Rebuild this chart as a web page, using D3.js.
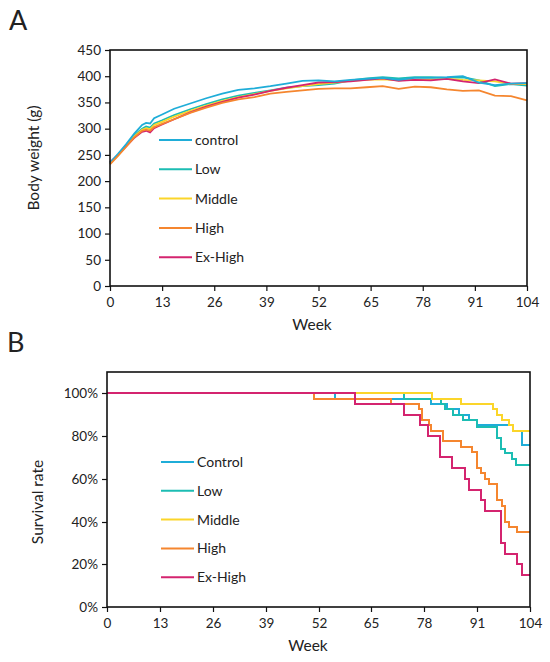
<!DOCTYPE html>
<meta charset="utf-8">
<head>
<style>
    body {margin: 0; background: #fff;}
    svg text {font-family: Lato, "Open Sans", sans-serif; fill: #222;}
</style>
</head>
<body>
<div class="chart"></div>
</body>
<script src="https://d3js.org/d3.v7.min.js"></script>
<script>
// groups
var groups = ["control", "Low", "Middle", "High", "Ex-High"];
var groupsB = ["Control", "Low", "Middle", "High", "Ex-High"];
var colors = ["#1fadd8", "#1cbdb3", "#fbd52a", "#f5862f", "#d4246f"];

// A: body weight (g) by week
var bwWeeks = [0, 2, 4, 6, 8, 9, 10, 11, 13, 16, 20, 24, 28, 32, 36, 40, 44, 48, 52, 56, 60, 64, 68, 72, 76, 80, 84, 88, 92, 96, 100, 104];
var bwControl = [235, 252, 270, 290, 307, 311, 310, 320, 327, 338, 348, 358, 367, 374, 377, 381, 386, 391, 392, 390, 393, 395, 397, 393, 397, 397, 398, 400, 388, 383, 386, 387];
var bwLow     = [235, 250, 268, 287, 300, 304, 302, 310, 316, 326, 337, 347, 356, 363, 368, 373, 378, 381, 383, 386, 392, 396, 398, 396, 398, 398, 397, 398, 392, 381, 385, 382];
var bwMiddle  = [233, 249, 267, 285, 298, 301, 299, 307, 313, 323, 334, 344, 353, 360, 366, 372, 377, 381, 385, 388, 391, 393, 394, 392, 394, 394, 395, 393, 392, 390, 385, 385];
var bwHigh    = [232, 248, 265, 283, 296, 298, 296, 303, 309, 318, 330, 340, 349, 356, 360, 367, 370, 373, 376, 377, 377, 379, 381, 376, 380, 379, 375, 372, 373, 363, 362, 354];
var bwExHigh  = [236, 250, 266, 282, 294, 296, 293, 301, 308, 318, 331, 342, 351, 359, 365, 372, 378, 383, 388, 389, 390, 393, 396, 391, 393, 392, 395, 390, 387, 394, 386, 387];

// B: survival rate (%) - week of each step and level after it
var svControlT = [0, 56, 79.6, 83.5, 86.5, 89, 91, 99.9, 102];
var svControlS = [100, 97.5, 95, 92.5, 90, 87.5, 85, 82.5, 76];
var svLowT = [0, 73, 82, 83, 85, 87.5, 91, 96, 96.8, 97.8, 99.6, 100.6];
var svLowS = [100, 97.5, 95, 92.5, 90, 87.5, 84.3, 79, 74, 72, 69.5, 66.5];
var svMiddleT = [0, 79.8, 87, 95, 96, 97, 98.9, 99.7];
var svMiddleS = [100, 97.5, 95, 92.5, 90, 87.5, 85, 82.5];
var svHighT = [0, 50.9, 69.9, 76.7, 77.4, 79.1, 79.7, 82.7, 87, 89.8, 90.9, 91.9, 92.9, 93.8, 96, 97, 97.8, 98.9, 100.7];
var svHighS = [100, 97.5, 95, 92.5, 87.5, 85, 82.5, 77.5, 75, 72.5, 65, 62.5, 60, 57.5, 50, 47.5, 40, 37.5, 35];
var svExHighT = [0, 61, 72.9, 76.9, 79, 81.9, 84.8, 88, 89, 92, 93, 96.9, 97.8, 100.9, 102];
var svExHighS = [100, 95, 90, 85, 80, 70, 65, 60, 55, 50, 45, 30, 25, 20, 15];

var weekTicks = [0, 13, 26, 39, 52, 65, 78, 91, 104];
var bwTicks = [0, 50, 100, 150, 200, 250, 300, 350, 400, 450];
var svTicks = [0, 20, 40, 60, 80, 100];

var width = 550, height = 662;
var svg = d3.select(".chart").append("svg")
    .attr("width", width)
    .attr("height", height);

function frame(g, x, y) {
    var r = x.range(), d = y.range();
    g.append("rect")
        .attr("x", r[0]).attr("y", d[1])
        .attr("width", r[1] - r[0]).attr("height", d[0] - d[1])
        .attr("fill", "none").attr("stroke", "#111").attr("stroke-width", 1.6);
}

function axes(g, x, y, yt, yfmt) {
    var gx = g.append("g").attr("transform", "translate(0," + y.range()[0] + ")")
        .call(d3.axisBottom(x).tickValues(weekTicks).tickSize(5).tickPadding(6));
    var gy = g.append("g").attr("transform", "translate(" + x.range()[0] + ",0)")
        .call(d3.axisLeft(y).tickValues(yt).tickSize(5).tickPadding(4).tickFormat(yfmt));
    [gx, gy].forEach(function (a) {
        a.select(".domain").remove();
        a.selectAll("line").attr("stroke", "#111").attr("stroke-width", 1.2);
        a.selectAll("text").attr("font-size", 13.5).attr("font-family", "Lato, sans-serif").attr("fill", "#222");
    });
}

function legend(g, names, x0, y0, dy) {
    names.forEach(function (n, i) {
        var yy = y0 + i * dy;
        g.append("line").attr("x1", x0).attr("x2", x0 + 33).attr("y1", yy).attr("y2", yy)
            .attr("stroke", colors[i]).attr("stroke-width", 2);
        g.append("text").attr("x", x0 + 36).attr("y", yy).attr("dy", "0.35em")
            .attr("font-size", 14).text(n);
    });
}

// ---- panel A
var xA = d3.scaleLinear().domain([0, 104]).range([110, 527]);
var yA = d3.scaleLinear().domain([0, 450]).range([286, 50]);
var gA = svg.append("g");
svg.append("text").attr("x", 9).attr("y", 30).attr("font-size", 27).text("A");
axes(gA, xA, yA, bwTicks, d3.format("d"));

var bwSeries = [bwControl, bwLow, bwMiddle, bwHigh, bwExHigh];
var lineA = d3.line().x(function (d) { return xA(d[0]); }).y(function (d) { return yA(d[1]); });
[1, 2, 4, 0, 3].forEach(function (i) {
    gA.append("path")
        .datum(bwWeeks.map(function (w, j) { return [w, bwSeries[i][j]]; }))
        .attr("d", lineA).attr("fill", "none")
        .attr("stroke", colors[i]).attr("stroke-width", 1.8);
});
frame(gA, xA, yA);
legend(gA, groups, 159, 140, 29.3);
gA.append("text").attr("transform", "translate(39,158) rotate(-90)")
    .attr("text-anchor", "middle").attr("font-size", 15.5).text("Body weight (g)");
gA.append("text").attr("x", 312).attr("y", 330).attr("text-anchor", "middle")
    .attr("font-size", 15.5).text("Week");

// ---- panel B
var xB = d3.scaleLinear().domain([0, 104]).range([107, 530]).interpolate(d3.interpolateRound);
var yB = d3.scaleLinear().domain([0, 110]).range([607, 372]).interpolate(d3.interpolateRound);
var gB = svg.append("g");
svg.append("text").attr("x", 7).attr("y", 352).attr("font-size", 27).text("B");
axes(gB, xB, yB, svTicks, function (d) { return d + "%"; });

var svT = [svControlT, svLowT, svMiddleT, svHighT, svExHighT];
var svS = [svControlS, svLowS, svMiddleS, svHighS, svExHighS];
var lineB = d3.line().curve(d3.curveStepAfter)
    .x(function (d) { return xB(d[0]); }).y(function (d) { return yB(d[1]); });
[0, 1, 2, 3, 4].forEach(function (i) {
    var pts = svT[i].map(function (t, j) { return [t, svS[i][j]]; });
    pts.push([104, svS[i][svS[i].length - 1]]);
    gB.append("path").datum(pts)
        .attr("d", lineB).attr("fill", "none")
        .attr("stroke", colors[i]).attr("stroke-width", 2);
});
frame(gB, xB, yB);
legend(gB, groupsB, 161, 462, 28.8);
gB.append("text").attr("transform", "translate(43,502) rotate(-90)")
    .attr("text-anchor", "middle").attr("font-size", 15.5).text("Survival rate");
gB.append("text").attr("x", 308).attr("y", 651).attr("text-anchor", "middle")
    .attr("font-size", 15.5).text("Week");
</script>
</body>
